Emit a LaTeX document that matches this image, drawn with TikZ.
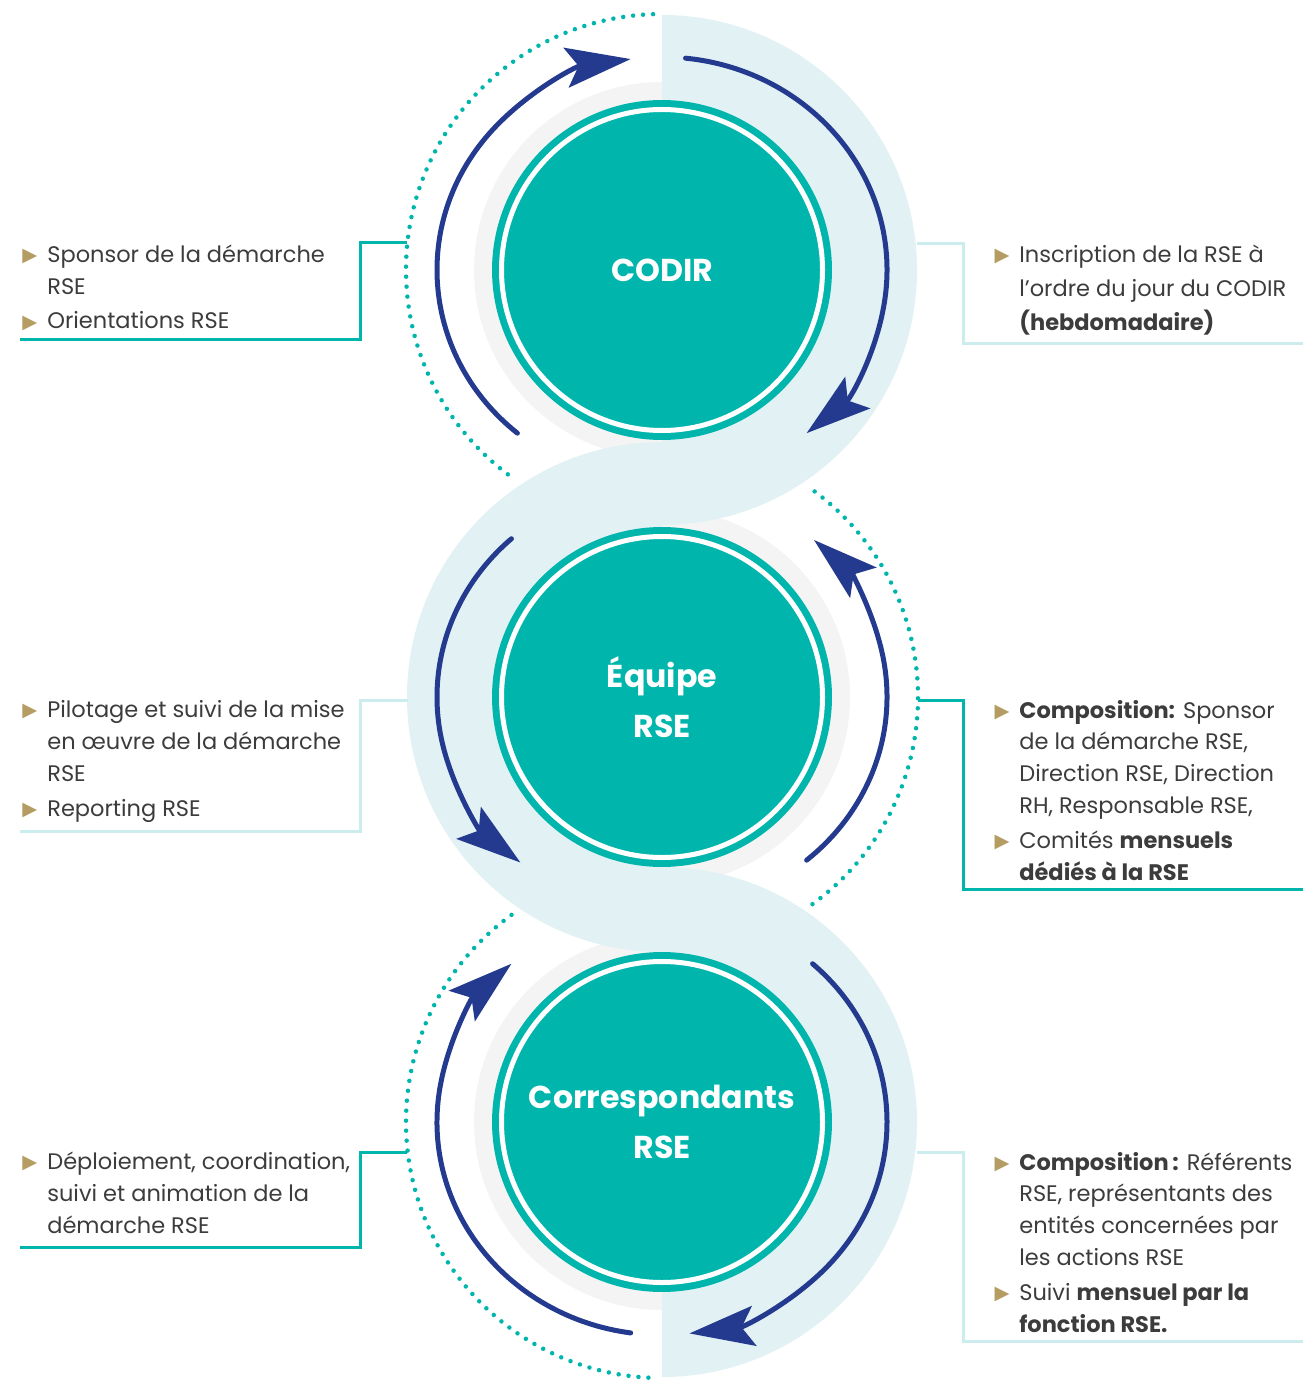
\documentclass[tikz,border=0pt]{standalone}
\usepackage{fontspec}
\setmainfont{Poppins}
\newfontfamily\symb{DejaVu Sans}
\usetikzlibrary{arrows.meta}

\definecolor{turquoise}{HTML}{00B5AC}
\definecolor{marine}{HTML}{243A8F}
\definecolor{bande}{HTML}{E1F1F4}
\definecolor{gris}{HTML}{F4F4F4}
\definecolor{pale}{HTML}{CBEDEE}
\definecolor{ocre}{HTML}{B59C62}
\definecolor{texte}{HTML}{3C3C3C}

\newcommand{\puce}{\llap{\raisebox{0.5pt}{\color{ocre}\symb\fontsize{11pt}{11pt}\selectfont ▶}\hspace{0.2cm}}}

\begin{document}
\begin{tikzpicture}[x=0.02cm, y=0.02cm,
    rond/.style={circle, fill=turquoise, inner sep=0pt, minimum size=6.8cm, text=white,
        align=center, font=\fontsize{18pt}{28.4pt}\selectfont\bfseries},
    fleche/.style={marine, line width=0.1cm, line cap=round,
        -{Stealth[length=1.3cm, width=0.8cm, inset=0.25cm]}},
    pointille/.style={turquoise, line width=0.09cm, line cap=round, dash pattern=on 0pt off 0.2cm},
    trait/.style={turquoise, line width=0.06cm},
    traitclair/.style={pale, line width=0.06cm},
    bloc/.style={anchor=base west, inner sep=0pt, align=left, text=texte,
        font=\fontsize{12.8pt}{18.1pt}\selectfont}]
    \useasboundingbox (0,0) rectangle (1303,-1381);
    \coordinate (c1) at (662,-270);
    \coordinate (c2) at (662,-697);
    \coordinate (c3) at (662,-1122);

    % fonds
    \foreach \c in {c1,c2,c3} \fill[gris] (\c) circle (188);
    \fill[bande] (c1) ++(0,255) arc[start angle=90, end angle=-90, radius=255] -- cycle;
    \fill[bande] (c2) ++(0,255) arc[start angle=90, end angle=270, radius=255] -- cycle;
    \fill[bande] (c3) ++(0,255) arc[start angle=90, end angle=-90, radius=255] -- cycle;

    % pointilles
    \draw[pointille] (c1) ++(92:256) arc[start angle=92, end angle=234, radius=256];
    \draw[pointille] (c2) ++(-54:256) arc[start angle=-54, end angle=54, radius=256];
    \draw[pointille] (c3) ++(126:256) arc[start angle=126, end angle=268, radius=256];

    % traits vers les textes
    \coordinate (g1) at (407,-243);
    \coordinate (g1b) at (20,-340);
    \coordinate (d1) at (917,-244);
    \coordinate (d1b) at (1303,-344);
    \coordinate (g2) at (408,-700);
    \coordinate (g2b) at (20,-831);
    \coordinate (d2) at (918,-700);
    \coordinate (d2b) at (1303,-889);
    \coordinate (g3) at (407,-1152);
    \coordinate (g3b) at (20,-1247);
    \coordinate (d3) at (917,-1152);
    \coordinate (d3b) at (1303,-1341);
    \draw[trait] (g1) -| (360,-340) -- (g1b);
    \draw[traitclair] (d1) -| (963,-344) -- (d1b);
    \draw[traitclair] (g2) -| (360,-831) -- (g2b);
    \draw[trait] (d2) -| (963,-889) -- (d2b);
    \draw[trait] (g3) -| (360,-1247) -- (g3b);
    \draw[traitclair] (d3) -| (963,-1341) -- (d3b);

    % fleches
    \draw[fleche] (c1) ++(230:225 and 213) arc[start angle=230, end angle=98, x radius=225, y radius=213];
    \draw[fleche] (c1) ++(84:225 and 213) arc[start angle=84, end angle=-50, x radius=225, y radius=213];
    \draw[fleche] (c2) ++(132:225 and 213) arc[start angle=132, end angle=231, x radius=225, y radius=213];
    \draw[fleche] (c2) ++(-50:225 and 213) arc[start angle=-50, end angle=47.5, x radius=225, y radius=213];
    \draw[fleche] (c3) ++(262:225 and 213) arc[start angle=262, end angle=132, x radius=225, y radius=213];
    \draw[fleche] (c3) ++(48:225 and 213) arc[start angle=48, end angle=-83, x radius=225, y radius=213];

    % cercles
    \node[rond] (codir) at (c1) {CODIR};
    \node[rond] (equipe) at (c2) {Équipe\\RSE};
    \node[rond] (corresp) at (c3) {Correspondants\\RSE};
    \foreach \n in {codir,equipe,corresp} \draw[white, line width=0.1cm] (\n.center) circle (160.5);

    % textes (ancres sur la derniere ligne)
    \node[bloc] (codirG) at (47,-329) {\puce Sponsor de la démarche\\RSE\\[0.06cm]\puce Orientations RSE};
    \node[bloc] (codirD) at (1019,-331) {\puce Inscription de la RSE à\\[0.05cm]l’ordre du jour du CODIR\\[0.05cm]{\bfseries (hebdomadaire)}};
    \node[bloc] (equipeG) at (47,-816) {\puce Pilotage et suivi de la mise\\en œuvre de la démarche\\RSE\\[0.06cm]\puce Reporting RSE};
    \node[bloc] (equipeD) at (1019,-880) {\puce {\bfseries Composition:} Sponsor\\de la démarche RSE,\\Direction RSE, Direction\\RH, Responsable RSE,\\[0.06cm]\puce Comités {\bfseries mensuels}\\{\bfseries dédiés à la RSE}};
    \node[bloc] (correspG) at (47,-1233) {\puce Déploiement, coordination,\\suivi et animation de la\\démarche RSE};
    \node[bloc] (correspD) at (1019,-1332) {\puce {\bfseries Composition\,:} Référents\\RSE, représentants des\\entités concernées par\\les actions RSE\\[0.06cm]\puce Suivi {\bfseries mensuel par la}\\{\bfseries fonction RSE.}};
\end{tikzpicture}
\end{document}
